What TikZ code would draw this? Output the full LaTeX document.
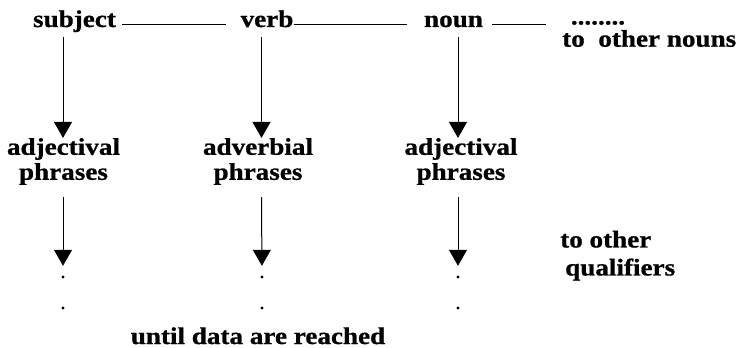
\documentclass[tikz,border=0pt]{standalone}
\usepackage{fontspec}
\setmainfont{Liberation Serif}[FakeStretch=1.13,FakeBold=0.8]
\usetikzlibrary{arrows.meta}
\tikzset{
  word/.style={font={\bfseries\fontsize{24}{25}\selectfont}, inner sep=0pt, anchor=base},
  twoline/.style={font={\bfseries\fontsize{24}{25}\selectfont}, inner sep=0pt, align=center},
  link/.style={line width=0.9pt},
  arr/.style={line width=1pt, -{Triangle[width=18pt,length=16pt]}},
  dotmark/.style={circle, fill=black, inner sep=0pt, minimum size=3.4pt}
}
\begin{document}
\begin{tikzpicture}[x=1pt,y=-1pt]
\useasboundingbox (0,0) rectangle (739,348);
% column positions
\coordinate (c1) at (63,0);
\coordinate (c2) at (261.5,0);
\coordinate (c3) at (458,0);
% top row
\node[word] (subject) at (74.5,27) {subject};
\node[word] (verb) at (267,27) {verb};
\node[word] (noun) at (453.5,27) {noun};
\node[word] (more) at (598,24.5) {........};
\node[word, anchor=base west] (othernouns) at (562,46.7) {to\ \ other nouns};
% second row
\node[twoline] (adj1) at (63.5,161.5) {adjectival\\phrases};
\node[twoline] (adv) at (258,161.5) {adverbial\\phrases};
\node[twoline] (adj2) at (461,161.5) {adjectival\\phrases};
% qualifiers
\node[font={\bfseries\fontsize{24}{28}\selectfont}, inner sep=0pt, align=left, anchor=west] (qual) at (560,255.7) {to other\\\hspace{5pt}qualifiers};
% dots
\node[dotmark] (d11) at (63,277) {};
\node[dotmark] (d12) at (63,308) {};
\node[dotmark] (d21) at (262,277) {};
\node[dotmark] (d22) at (262,308) {};
\node[dotmark] (d31) at (458,277) {};
\node[dotmark] (d32) at (458,308) {};
% bottom text
\node[word] (until) at (258,344) {until data are reached};
% horizontal links
\draw[link] ([xshift=6pt,yshift=3pt]subject.base east) -- ([xshift=-14pt,yshift=3pt]verb.base west);
\draw[link] ([xshift=0pt,yshift=3pt]verb.base east) -- ([xshift=-17pt,yshift=3pt]noun.base west);
\draw[link] ([xshift=9pt,yshift=3pt]noun.base east) -- ([xshift=-25pt,yshift=0.5pt]more.base west);
% vertical arrows, top
\draw[arr] (c1 |- 0,37) -- (adj1.north -| c1);
\draw[arr] (c2 |- 0,37) -- (adv.north -| c2);
\draw[arr] (c3 |- 0,37) -- (adj2.north -| c3);
% vertical arrows, bottom
\draw[arr, shorten >=9.3pt] ([yshift=-12pt]adj1.south -| c1) -- (d11);
\draw[arr, shorten >=9.3pt] ([yshift=-12pt]adv.south -| c2) -- (d21);
\draw[arr, shorten >=9.3pt] ([yshift=-12pt]adj2.south -| c3) -- (d31);
\end{tikzpicture}
\end{document}
